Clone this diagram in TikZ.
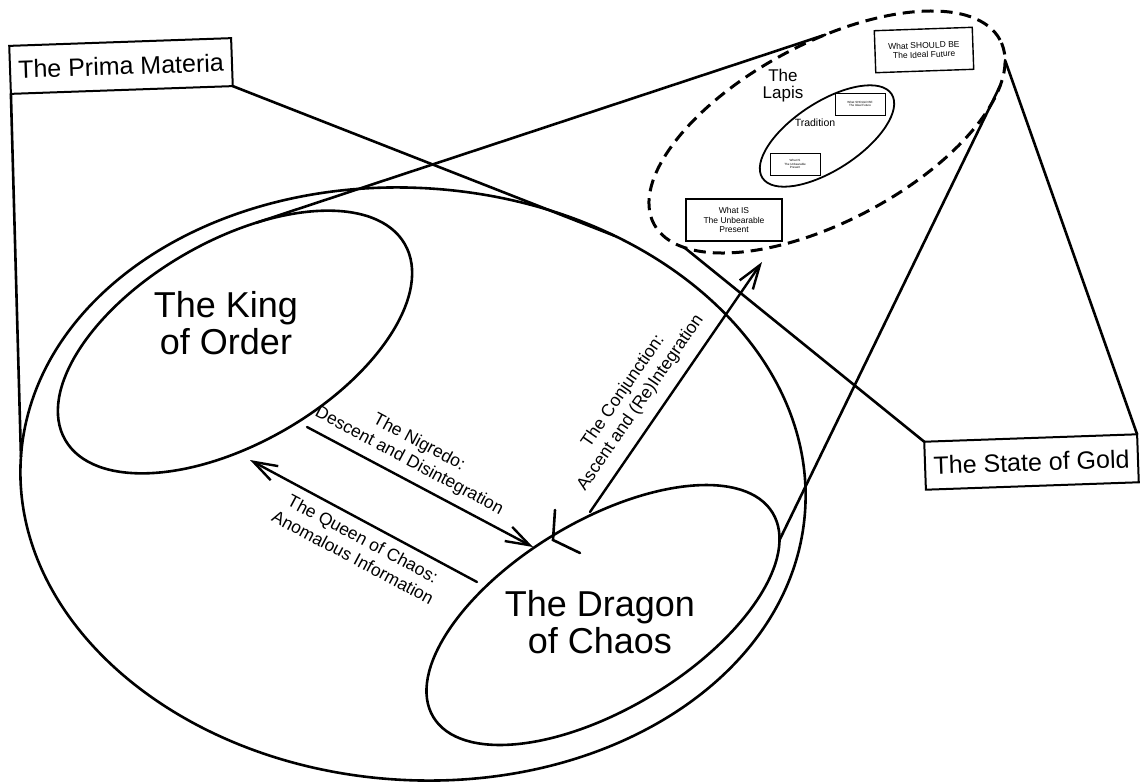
\documentclass[tikz,border=0pt]{standalone}
\usepackage{fontspec}
\setmainfont{Liberation Sans}
\usetikzlibrary{shapes.geometric,arrows.meta}
\begin{document}
\begin{tikzpicture}[x=1pt,y=-1pt,
  ell/.style={draw, ellipse, inner sep=0pt, outer sep=0pt, line width=2.6pt},
  conn/.style={line width=2.6pt, line cap=round},
  arr/.style={line width=2.4pt, line cap=round, -{Straight Barb[length=24pt,width=16pt]}},
  bigbox/.style={draw, line width=2pt, inner sep=0pt, outer sep=0pt, font=\fontsize{25}{30}\selectfont, minimum height=48pt},
  smallbox/.style={draw, line width=1.4pt, inner sep=0pt, outer sep=0pt, align=center, font=\fontsize{8.5}{9.2}\selectfont},
  tinybox/.style={draw, line width=1pt, inner sep=0pt, outer sep=0pt, align=center, font=\fontsize{3}{3.4}\selectfont},
  bigtext/.style={align=center, inner sep=0pt, font=\fontsize{36}{37}\selectfont},
  lbl/.style={align=center, inner sep=0pt, font=\fontsize{17.5}{21}\selectfont},
]
\useasboundingbox (0,0) rectangle (1143,782);
\fill[white] (0,0) rectangle (1143,782);

% main ellipses
\node[ell, minimum width=786pt, minimum height=592pt, rotate=-4] (primaell) at (413,484) {};
\node[ell, minimum width=392pt, minimum height=202pt, rotate=30] (king) at (235,342) {};
\node[ell, minimum width=396pt, minimum height=188pt, rotate=31] (dragon) at (603,615) {};
\node[bigtext] (kingtext) at (226,323) {The King\\of Order};
\node[bigtext] (dragontext) at (600,622) {The Dragon\\of Chaos};

% the lapis
\node[ell, dash pattern=on 12pt off 7pt, line width=3pt, minimum width=392pt, minimum height=178pt, rotate=28] (lapis) at (827,132) {};
\node[ell, line width=1.8pt, minimum width=154pt, minimum height=68pt, rotate=33] (trad) at (827,136) {};
\node[align=center, inner sep=0pt, font=\fontsize{17}{17}\selectfont] (lapistext) at (783,86) {The\\Lapis};
\node[inner sep=0pt, font=\fontsize{10.5}{12}\selectfont] (tradtext) at (815,123) {Tradition};
\node[smallbox, minimum width=98pt, minimum height=42pt, rotate=2] (should) at (924,50) {What SHOULD BE\\The Ideal Future};
\node[smallbox, minimum width=96pt, minimum height=42pt] (whatis) at (734,220) {What IS\\The Unbearable\\Present};
\node[tinybox, minimum width=50pt, minimum height=22pt] (tshould) at (860,104) {What SHOULD BE\\The Ideal Future};
\node[tinybox, minimum width=50pt, minimum height=22pt] (tis) at (795,164) {What IS\\The Unbearable\\Present};

% callout boxes
\node[bigbox, minimum width=222pt, rotate=2] (prima) at (121,66) {The Prima Materia};
\node[bigbox, minimum width=213pt, rotate=2] (gold) at (1031.5,462) {The State of Gold};

\draw[conn] (prima.south west) -- (primaell.180);
\draw[conn] (prima.south east) -- (primaell.55);
\draw[conn] (gold.north west) -- (lapis.191);
\draw[conn] (gold.north east) -- (lapis.-6);
\draw[conn] (king.50) -- (lapis.63);
\draw[conn] (dragon.-8) -- (lapis.-13);

% arrows
\coordinate (nigS) at (307,427);
\coordinate (nigE) at (533,547);
\coordinate (queS) at (477,582);
\coordinate (queE) at (250,460);
\coordinate (conS) at (590,512);
\coordinate (conE) at (762,262);
\draw[arr] (nigS) -- (nigE);
\draw[arr] (queS) -- (queE);
\draw[arr] (conS) -- (conE);
\coordinate (xa) at (555,510);
\coordinate (xb) at (553,540);
\coordinate (xc) at (580,553);
\draw[conn] (xa) -- (xb) -- (xc);

\node[lbl, rotate=-28] (nigtext) at (414,452) {The Nigredo:\\Descent and Disintegration};
\node[lbl, rotate=-28] (quetext) at (358,548) {The Queen of Chaos:\\Anomalous Information};
\node[lbl, rotate=55.5] (context) at (632,397) {The Conjunction:\\Ascent and (Re)Integration};
\end{tikzpicture}
\end{document}
